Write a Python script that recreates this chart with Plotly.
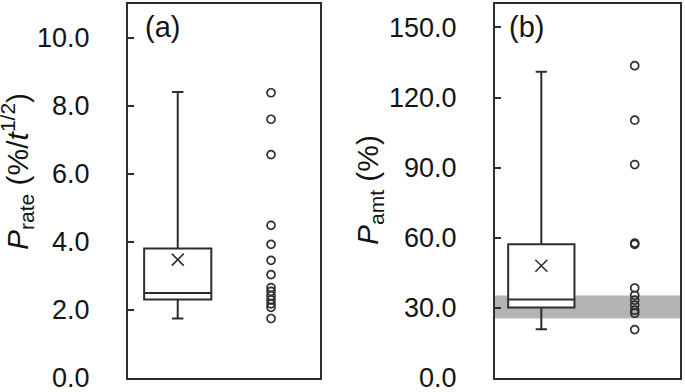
import plotly.graph_objects as go

# ---- data ----
# box stats: [lower whisker, Q1, median, Q3, upper whisker]
rate_box = [1.75, 2.31, 2.50, 3.81, 8.41]
rate_mean = [3.48]
rate_points = [8.39, 7.61, 6.57, 4.49, 3.93, 3.46, 3.04, 2.66, 2.55, 2.42, 2.30, 2.18, 2.08, 1.75]

amt_box = [20.9, 30.2, 33.6, 57.2, 131.0]
amt_mean = [48.0]
amt_points = [133.6, 110.3, 91.3, 57.7, 57.2, 38.5, 35.4, 33.3, 31.2, 29.0, 27.7, 20.7]
amt_band = [25.5, 35.3]

rate_ticks = [0, 2, 4, 6, 8, 10]
amt_ticks = [0, 30, 60, 90, 120, 150]

W, H = 685, 392
LC = "#2e2e2e"
FONT = "Liberation Sans, Arial, sans-serif"

fig = go.Figure()


def add_panel(stats, mean, pts, xa, ya, bw):
    fig.add_trace(go.Box(
        x=[0], q1=[stats[1]], median=[stats[2]], q3=[stats[3]],
        lowerfence=[stats[0]], upperfence=[stats[4]],
        width=bw, whiskerwidth=0.17, fillcolor="white",
        line=dict(color=LC, width=2), boxpoints=False,
        xaxis=xa, yaxis=ya, showlegend=False, hoverinfo="skip"))
    fig.add_trace(go.Scatter(
        x=[0] * len(mean), y=mean, mode="markers",
        marker=dict(symbol="x-thin", size=12, line=dict(width=1.6, color=LC)),
        xaxis=xa, yaxis=ya, showlegend=False))
    fig.add_trace(go.Scatter(
        x=[1] * len(pts), y=pts, mode="markers",
        marker=dict(symbol="circle-open", size=8, color=LC, line=dict(width=1.7)),
        xaxis=xa, yaxis=ya, showlegend=False))


add_panel(rate_box, rate_mean, rate_points, "x", "y", 0.72)
add_panel(amt_box, amt_mean, amt_points, "x2", "y2", 0.71)

fig.add_shape(type="rect", xref="x2 domain", x0=0, x1=1, yref="y2",
              y0=amt_band[0], y1=amt_band[1], fillcolor="#b4b4b4",
              line=dict(width=0), layer="below")

ydom = [1 - 378 / H, 1 - 4 / H]
common_x = dict(showticklabels=False, ticks="", showline=True, mirror=True,
                linecolor=LC, linewidth=2, showgrid=False, zeroline=False,
                automargin=False)
common_y = dict(showline=True, mirror=True, linecolor=LC, linewidth=2,
                showgrid=False, zeroline=False, ticks="inside", ticklen=6,
                tickcolor=LC, tickwidth=1.5, tickformat=".1f",
                ticklabelstandoff=31, automargin=False, ticklabeloverflow="allow",
                tickfont=dict(family=FONT, size=27, color="#141414"))

fig.update_layout(
    width=W, height=H, autosize=False,
    margin=dict(l=0, r=0, t=0, b=0, autoexpand=False),
    paper_bgcolor="white", plot_bgcolor="white",
    xaxis=dict(domain=[128 / W, 320 / W], range=[-0.533, 1.525], anchor="y", **common_x),
    yaxis=dict(domain=ydom, range=[0, 11], tickvals=rate_ticks, anchor="x", **common_y),
    xaxis2=dict(domain=[495 / W, 680 / W], range=[-0.496, 1.485], anchor="y2", **common_x),
    yaxis2=dict(domain=ydom, range=[0, 160], tickvals=amt_ticks, anchor="x2", **common_y),
)

title_font = dict(family=FONT, size=30, color="#141414")
lab_font = dict(family=FONT, size=29, color="#141414")
fig.add_annotation(text="<i>P</i><sub>rate</sub> (%/<i>t</i><sup>1/2</sup>)",
                   xref="paper", yref="paper", x=-6 / W, y=1 - 172 / H,
                   xanchor="left", yanchor="middle", textangle=-90,
                   showarrow=False, font=title_font)
fig.add_annotation(text="<i>P</i><sub>amt</sub> (%)",
                   xref="paper", yref="paper", x=370 / W, y=1 - 190 / H,
                   xanchor="center", yanchor="middle", textangle=-90,
                   showarrow=False, font=title_font)
fig.add_annotation(text="(a)", xref="paper", yref="paper", x=162.5 / W, y=1 - 27 / H,
                   xanchor="center", yanchor="middle", showarrow=False, font=lab_font)
fig.add_annotation(text="(b)", xref="paper", yref="paper", x=526.5 / W, y=1 - 27 / H,
                   xanchor="center", yanchor="middle", showarrow=False, font=lab_font)

fig.write_html("out.html", config={"displayModeBar": False},
               post_script="document.body.style.margin='0';")
